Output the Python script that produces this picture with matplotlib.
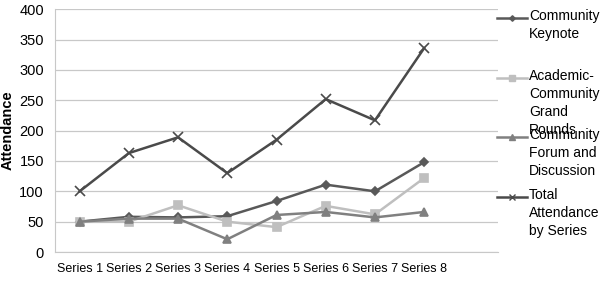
import matplotlib
matplotlib.use("Agg")
import matplotlib.pyplot as plt
from matplotlib.lines import Line2D

plt.rcParams["font.family"] = ["Liberation Sans", "DejaVu Sans"]

categories = ["Series 1", "Series 2", "Series 3", "Series 4",
              "Series 5", "Series 6", "Series 7", "Series 8"]
keynote = [50, 58, 57, 59, 84, 111, 100, 148]
grand_rounds = [50, 50, 77, 50, 41, 76, 62, 122]
forum = [50, 55, 55, 21, 61, 66, 57, 66]
total = [100, 163, 189, 130, 185, 252, 217, 336]

series = [
    ("Community\nKeynote", keynote, "#595959", "D", 4),
    ("Academic-\nCommunity\nGrand\nRounds", grand_rounds, "#BFBFBF", "s", 6),
    ("Community\nForum and\nDiscussion", forum, "#808080", "^", 6),
    ("Total\nAttendance\nby Series", total, "#4A4A4A", "x", 7),
]

fig = plt.figure(figsize=(6.03, 2.85), dpi=100)
ax = fig.add_axes([55 / 603, 1 - 252 / 285, 443 / 603, (252 - 9.3) / 285])

x = list(range(len(categories)))
for label, values, color, marker, ms in series:
    ax.plot(x, values, color=color, lw=1.8, marker=marker, markersize=ms,
            markeredgecolor=color, markerfacecolor=color, markeredgewidth=1.2)

ax.set_xlim(-0.5, len(categories) + 0.5)
ax.set_ylim(0, 400)
ax.set_yticks(range(0, 401, 50))
ax.set_xticks(x)
ax.set_xticklabels(categories)
ax.tick_params(axis="both", length=0, colors="#000000")
ax.tick_params(axis="x", pad=8, labelsize=9)
ax.tick_params(axis="y", pad=8, labelsize=10.5)
ax.grid(axis="y", color="#C8C8C8", lw=0.9)
ax.set_axisbelow(True)
for side in ["top", "right"]:
    ax.spines[side].set_visible(False)
ax.spines["left"].set_color("#C8C8C8")
ax.spines["bottom"].set_color("#C8C8C8")
ax.set_ylabel("Attendance", fontsize=10.5, fontweight="bold", labelpad=3)

# legend drawn by hand to match the stacked layout
legend_y = [18, 78, 137, 197]
for (label, values, color, marker, ms), ly in zip(series, legend_y):
    yf = 1 - ly / 285
    fig.add_artist(Line2D([497 / 603, 527 / 603], [yf, yf], color=color, lw=1.8,
                          transform=fig.transFigure))
    fig.add_artist(Line2D([512 / 603], [yf], color=color, marker=marker,
                          markersize=ms * 0.7, markerfacecolor=color,
                          markeredgecolor=color, transform=fig.transFigure))
    fig.text(529 / 603, yf + 9 / 285, label, fontsize=10, va="top", ha="left",
             linespacing=1.35)

fig.savefig("out.png", dpi=100)
